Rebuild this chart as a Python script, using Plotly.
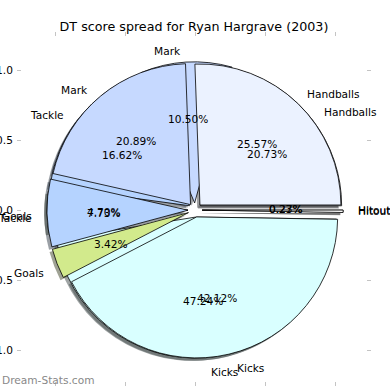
import math
import plotly.graph_objects as go

# ---------------- data ----------------
categories = ["Hitout", "Handballs", "Mark", "Tackle", "Goals", "Kicks"]
share_top = [0.27, 25.57, 20.89, 7.73, 3.42, 42.12]     # pie drawn on top
share_under = [0.23, 20.73, 10.50, 16.62, 4.70, 47.24]  # pie drawn underneath
slice_colors = ["#FFFFFF", "#EBF2FF", "#C6D9FF", "#B5D3FF", "#D2EA8C", "#D9FFFF"]
tick_vals = [-1.0, -0.5, 0.0, 0.5, 1.0]
title_text = "DT score spread for Ryan Hargrave (2003)"
watermark = "Dream-Stats.com"

# ---------------- layout constants ----------------
W = H = 390
ML, MR, MT, MB = 22, 24, 37, 9
XR = [-1.236, 1.221]
YR = [-1.221, 1.236]
RADIUS = 1.007
EXPLODE = 0.05
SHADOW = 0.02
FONT = "DejaVu Sans"
FS = 10.6


def domain(cx, cy):
    half = RADIUS * (1 + EXPLODE)
    sx = XR[1] - XR[0]
    sy = YR[1] - YR[0]
    return dict(x=[(cx - half - XR[0]) / sx, (cx + half - XR[0]) / sx],
                y=[(cy - half - YR[0]) / sy, (cy + half - YR[0]) / sy])


def hex_rgb(h):
    h = h.lstrip("#")
    return tuple(int(h[i:i + 2], 16) for i in (0, 2, 4))


def pie(values, colors, dom, line, tag):
    return go.Pie(
        values=values, labels=[tag + c for c in categories], sort=False,
        direction="counterclockwise", rotation=90,
        pull=[EXPLODE] * len(values),
        marker=dict(colors=colors, line=line),
        textinfo="none", hoverinfo="skip", showlegend=False, domain=dom)


shadow_colors = []
for c in slice_colors:
    r, g, b = hex_rgb(c)
    shadow_colors.append(f"rgba({int(r*0.3)},{int(g*0.3)},{int(b*0.3)},0.5)")

fig = go.Figure()
# shadows of both pies below everything
for i, vals in enumerate([share_under, share_top]):
    fig.add_trace(pie(vals, shadow_colors, domain(-SHADOW, -SHADOW),
                      dict(width=0), f"s{i}-"))
fig.add_trace(pie(share_under, slice_colors, domain(0, 0),
                  dict(color="black", width=0.8), "u-"))
fig.add_trace(pie(share_top, slice_colors, domain(0, 0),
                  dict(color="black", width=0.8), "t-"))

# invisible scatter to anchor the axes
fig.add_trace(go.Scatter(x=[0], y=[0], mode="markers", marker=dict(opacity=0),
                         hoverinfo="skip", showlegend=False))

annotations = []
for vals in [share_under, share_top]:
    total = sum(vals)
    cum = 0.0
    for name, v in zip(categories, vals):
        theta = 2 * math.pi * (cum + v / 2) / total
        cum += v
        c, s = math.cos(theta), math.sin(theta)
        lx, ly = (EXPLODE + 1.1) * c, (EXPLODE + 1.1) * s - 0.012
        annotations.append(dict(x=lx, y=ly, xref="x", yref="y", text=name,
                                showarrow=False, xanchor="left" if lx > 0 else "right",
                                yanchor="middle", font=dict(family=FONT, size=FS, color="black")))
        px_, py_ = (EXPLODE + 0.6) * c, (EXPLODE + 0.6) * s
        annotations.append(dict(x=px_, y=py_, xref="x", yref="y", text=f"{v:.2f}%",
                                showarrow=False, xanchor="center", yanchor="middle",
                                font=dict(family=FONT, size=FS, color="black")))

annotations.append(dict(x=-ML / (W - ML - MR), y=0.003, xref="paper", yref="paper",
                        text=watermark, showarrow=False, xanchor="left", yanchor="middle",
                        font=dict(family=FONT, size=FS, color="#888888")))

axis_common = dict(showgrid=False, zeroline=False, showline=False, ticks="outside",
                   ticklen=4, tickwidth=1, tickcolor="#c4c4c4", mirror="ticks",
                   tickvals=tick_vals, tickformat=".1f", automargin=False,
                   ticklabelstandoff=2,
                   tickfont=dict(family=FONT, size=FS, color="black"), fixedrange=True)

fig.update_layout(
    width=W, height=H,
    margin=dict(l=ML, r=MR, t=MT, b=MB, autoexpand=False),
    paper_bgcolor="white", plot_bgcolor="white",
    title=dict(text=title_text, x=0.5, xref="paper", xanchor="center",
               y=1 - 27 / H, yref="container", yanchor="middle", automargin=False,
               font=dict(family=FONT, size=12.7, color="black")),
    xaxis=dict(range=XR, **axis_common),
    yaxis=dict(range=YR, **axis_common),
    annotations=annotations,
    font=dict(family=FONT),
)

fig.write_html("out.html", config={"displayModeBar": False},
               post_script="document.body.style.margin='0px';document.body.style.overflow='hidden';")
